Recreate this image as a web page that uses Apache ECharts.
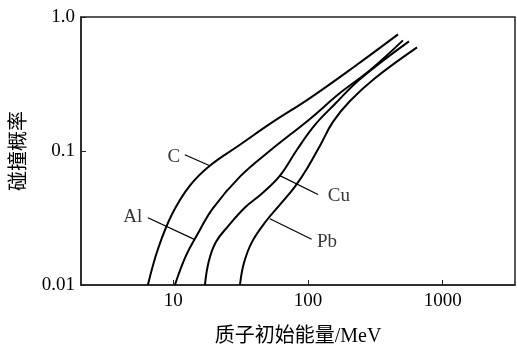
<!DOCTYPE html>
<html>
<head>
<meta charset="utf-8">
<script src="https://cdn.jsdelivr.net/npm/echarts@6/dist/echarts.min.js"></script>
<style>
html,body{margin:0;padding:0;background:#fff;}
#chart{width:517px;height:352px;}
</style>
</head>
<body>
<div id="chart"></div>
<script>
// Curves: [energy MeV, collision probability]
const curveC  = [[6.49,0.0100],[7.70,0.0185],[9.78,0.0336],[13.3,0.0552],[18.7,0.0777],[31.3,0.1113],[52.2,0.1593],[103.5,0.2484],[223,0.4292],[466,0.742]];
const curveAl = [[10.3,0.0100],[12.4,0.0164],[15.0,0.0235],[19.7,0.0373],[31.3,0.0644],[52.2,0.1004],[103.5,0.1735],[172.8,0.2705],[288.6,0.4009],[507,0.669]];
const curveCu = [[17.2,0.0100],[18.4,0.0151],[20.75,0.0209],[25.5,0.0274],[34.1,0.0379],[45.6,0.0482],[62.0,0.0655],[82.9,0.1022],[112.7,0.1566],[158.6,0.2242],[243,0.3437],[562,0.658]];
const curvePb = [[31.3,0.0100],[33.5,0.0146],[38.4,0.0209],[48.8,0.0299],[64.1,0.0413],[80.1,0.0543],[98.3,0.0738],[122.8,0.1094],[153.3,0.1648],[205,0.2360],[314,0.3496],[645,0.594]];

// Curve names and label anchor points (data coords)
const curveNames = ['C','Al','Cu','Pb'];
const labelPoints = [[10.12,0.0906],[5.02,0.0320],[169.9,0.0458],[138.4,0.02085]];
// Leader lines: [from, to] in data coords
const leaderLines = [
  [[12.2,0.0938],[18.7,0.0777]],
  [[6.49,0.0318],[14.49,0.0218]],
  [[61.96,0.0655],[118.7,0.0474]],
  [[52.2,0.03126],[106.5,0.02195]]
];

const yTickValues = [0.01, 0.1, 1];
const yTickLabels = ['0.01', '0.1', '1.0'];
const xTickValues = [10, 100, 1000];
const xTickLabels = ['10', '100', '1000'];

const serif = 'Liberation Serif, Noto Sans CJK SC, serif';

function lookup(vals, labels, v) {
  for (let i = 0; i < vals.length; i++) {
    if (Math.abs(Math.log10(v) - Math.log10(vals[i])) < 1e-6) return labels[i];
  }
  return '';
}

const curves = [curveC, curveAl, curveCu, curvePb];
const series = [];
curves.forEach((d, i) => {
  series.push({
    type: 'line', name: curveNames[i], data: d, smooth: 0.4, symbol: 'none',
    lineStyle: {color: '#000', width: 2}, silent: true, z: 3
  });
});
leaderLines.forEach((seg) => {
  series.push({
    type: 'line', data: seg, symbol: 'none', smooth: false,
    lineStyle: {color: '#000', width: 1.2}, silent: true, z: 2
  });
});
series.push({
  type: 'scatter', symbolSize: 0, silent: true,
  data: labelPoints.map((p, i) => ({value: p, name: curveNames[i]})),
  label: {show: true, position: 'inside', formatter: '{b}', color: '#000',
          fontFamily: serif, fontSize: 19}
});

const chart = echarts.init(document.getElementById('chart'), null, {renderer: 'canvas'});
chart.setOption({
  backgroundColor: '#fff',
  animation: false,
  grid: {left: 81, top: 17, width: 434, height: 269, show: true,
         borderColor: '#222', borderWidth: 1.5, backgroundColor: 'transparent'},
  xAxis: {
    type: 'log', min: 2.07, max: 3440, logBase: 10,
    name: '质子初始能量/MeV', nameLocation: 'middle', nameGap: 42,
    nameTextStyle: {fontFamily: serif, fontSize: 20, color: '#000'},
    axisLine: {show: true, lineStyle: {color: '#222', width: 1.5}},
    axisTick: {show: true, inside: true, length: 5, lineStyle: {color: '#222', width: 1}},
    axisLabel: {show: true, margin: 7, color: '#000', fontFamily: serif, fontSize: 19,
                showMinLabel: false, showMaxLabel: false,
                formatter: v => lookup(xTickValues, xTickLabels, v)},
    splitLine: {show: false}, minorTick: {show: false}
  },
  yAxis: {
    type: 'log', min: 0.01, max: 1, logBase: 10,
    name: '碰撞概率', nameLocation: 'middle', nameGap: 51, nameRotate: 90,
    nameTextStyle: {fontFamily: serif, fontSize: 20, color: '#000'},
    axisLine: {show: true, lineStyle: {color: '#222', width: 1.5}},
    axisTick: {show: true, inside: true, length: 5, lineStyle: {color: '#222', width: 1}},
    axisLabel: {show: true, margin: 6, color: '#000', fontFamily: serif, fontSize: 19,
                formatter: v => lookup(yTickValues, yTickLabels, v)},
    splitLine: {show: false}, minorTick: {show: false}
  },
  series: series
});
</script>
</body>
</html>
